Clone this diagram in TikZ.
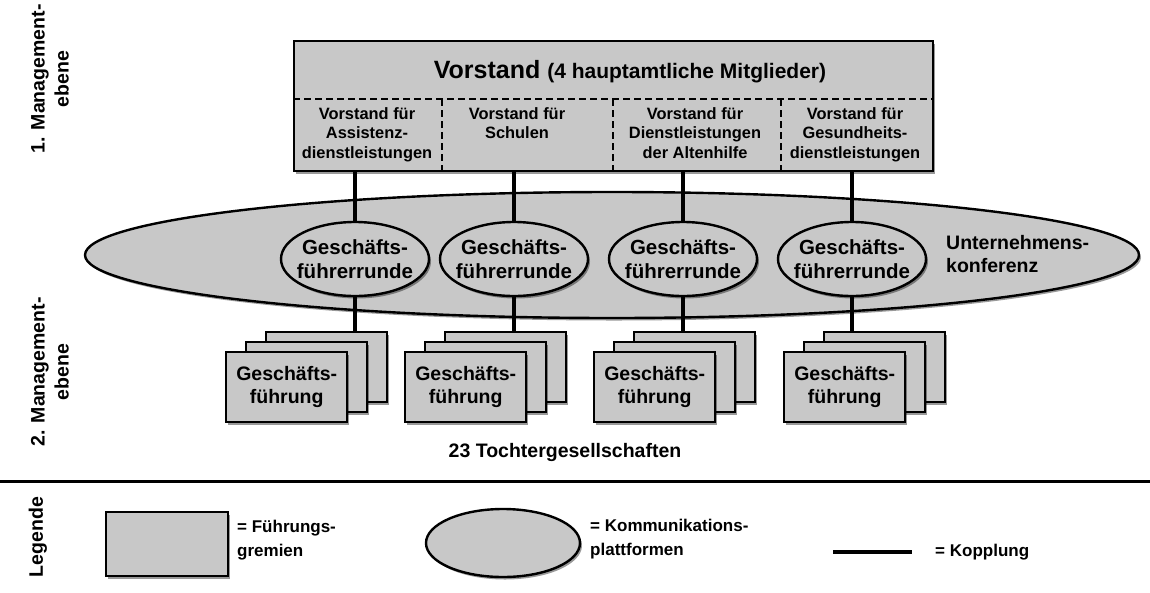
\documentclass[tikz,border=0pt]{standalone}
\usepackage{fontspec}
\setmainfont{Liberation Sans}
\usetikzlibrary{shapes.geometric,shadows}
\definecolor{panelgray}{RGB}{200,200,200}

\tikzset{
  shade/.style={drop shadow={shadow xshift=2pt, shadow yshift=-2.5pt, fill=black, opacity=0.4}},
  panel/.style={rectangle, draw=black, line width=2.4pt, fill=panelgray, shade, inner sep=0pt},
  bubble/.style={ellipse, draw=black, line width=2.4pt, fill=panelgray, shade, inner sep=0pt},
  link/.style={draw=black, line width=3.5pt},
  divider/.style={draw=black, line width=2.2pt, dash pattern=on 7pt off 4pt},
  txt/.style={font=\bfseries\fontsize{19.5}{23}\selectfont, align=center, inner sep=0pt},
  roundtxt/.style={font=\bfseries\fontsize{20.5}{23.5}\selectfont, align=center, inner sep=0pt},
  subtxt/.style={font=\bfseries\fontsize{16.4}{19.5}\selectfont, align=center, inner sep=0pt},
  legtxt/.style={font=\bfseries\fontsize{17}{24.5}\selectfont, align=left, inner sep=0pt, anchor=west},
  sidetxt/.style={font=\bfseries\fontsize{19.5}{24}\selectfont, align=center, inner sep=0pt, rotate=90},
}

\begin{document}
\begin{tikzpicture}[x=1pt, y=-1pt]
\useasboundingbox (0,0) rectangle (1150,592);

% level labels on the left
\node[sidetxt] (lvl1) at (50,79) {1. Management-\\ebene};
\node[sidetxt] (lvl2) at (50,372) {2. Management-\\ebene};
\node[sidetxt] (lvlleg) at (38,537) {Legende};

% executive board with its four departments
\node[panel, minimum width=639pt, minimum height=130pt, anchor=north west] (vorstand) at (293,40) {};
\node[txt] (vtitle) at (630,72) {\fontsize{25}{28}\selectfont Vorstand \fontsize{21}{24}\selectfont(4 hauptamtliche Mitglieder)};
\coordinate (dashL) at (293,99);
\coordinate (dashR) at (932,99);
\draw[divider] (dashL) -- (dashR);
\foreach \dx/\n in {442/1, 613/2, 781/3}{
  \coordinate (dt\n) at (\dx,99);
  \coordinate (db\n) at (\dx,170);
  \draw[divider] (dt\n) -- (db\n);
}
\node[subtxt, anchor=north] (dep1) at (367,107) {Vorstand für\\Assistenz-\\dienstleistungen};
\node[subtxt, anchor=north] (dep2) at (517,107) {Vorstand für\\Schulen};
\node[subtxt, anchor=north] (dep3) at (695,107) {Vorstand für\\Dienstleistungen\\der Altenhilfe};
\node[subtxt, anchor=north] (dep4) at (855,107) {Vorstand für\\Gesundheits-\\dienstleistungen};

% company conference
\node[bubble, minimum width=1054pt, minimum height=126pt] (konf) at (612,255) {};
\node[txt, align=left, anchor=west] (konft) at (946,254) {Unternehmens-\\konferenz};

% managing-director rounds and subsidiaries
\foreach \i/\L/\cx in {1/225/355, 2/404/514, 3/593/683, 4/783/852}{
  \node[bubble, minimum width=148pt, minimum height=74pt] (run\i) at (\cx,259) {};
  \node[roundtxt] (runt\i) at (run\i.center) {Geschäfts-\\führerrunde};
  \node[panel, minimum width=121pt, minimum height=70pt, anchor=north west] (gb\i) at ({\L+40},331) {};
  \node[panel, minimum width=121pt, minimum height=70pt, anchor=north west] (gm\i) at ({\L+20},341) {};
  \node[panel, minimum width=121pt, minimum height=70pt, anchor=north west] (gf\i) at (\L,351) {};
  \node[txt] (gft\i) at (gf\i.center) {Geschäfts-\\führung};
  \draw[link] (vorstand.south -| run\i) -- (run\i.north);
  \draw[link] (run\i.south) -- (gb\i.north -| run\i);
}
\node[txt] (tochter) at (565,452) {23 Tochtergesellschaften};

% separator above the legend
\coordinate (sepL) at (0,481);
\coordinate (sepR) at (1150,481);
\draw[line width=3pt] (sepL) -- (sepR);

% legend
\node[panel, minimum width=122pt, minimum height=64pt, anchor=north west] (legbox) at (105,511) {};
\node[legtxt] (legboxt) at (237,540) {= Führungs-\\gremien};
\node[bubble, minimum width=154pt, minimum height=68pt] (legell) at (503,543) {};
\node[legtxt] (legellt) at (590,539) {= Kommunikations-\\plattformen};
\coordinate (koppL) at (833,552);
\coordinate (koppR) at (912,552);
\draw[line width=4pt] (koppL) -- (koppR);
\node[legtxt] (koppt) at (935,552) {= Kopplung};
\end{tikzpicture}
\end{document}
